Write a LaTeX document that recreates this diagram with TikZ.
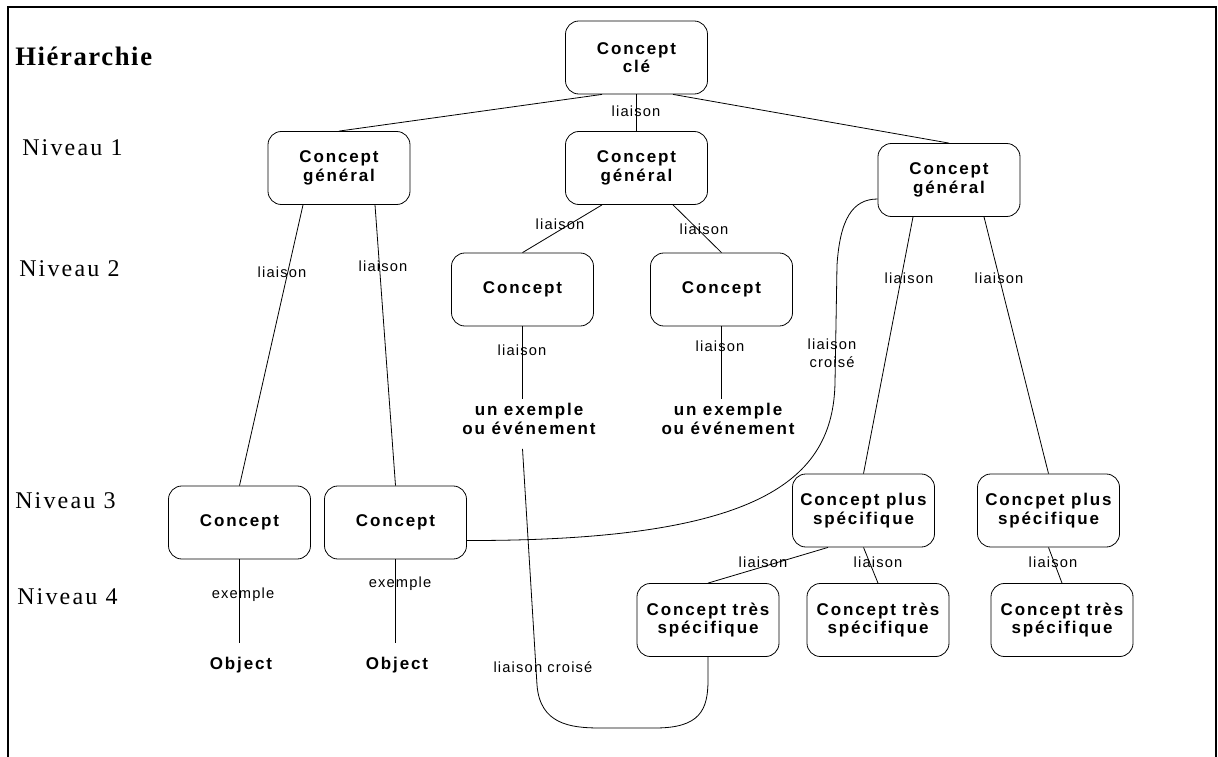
\documentclass[tikz,border=0pt]{standalone}
\usepackage{fontspec}
\setmainfont{Liberation Serif}
\newfontfamily\boxfont[LetterSpace=11]{Liberation Sans}
\newfontfamily\labfont[LetterSpace=8]{Liberation Sans}
\newfontfamily\levfont[LetterSpace=9]{Liberation Serif}
\newfontfamily\titlefont[LetterSpace=6]{Liberation Serif}
\usetikzlibrary{calc}

\begin{document}
\begin{tikzpicture}[x=0.75pt,y=-0.75pt,
  concept/.style={draw, rounded corners=10pt, minimum width=106.5pt,
    minimum height=54.75pt, align=center, inner sep=0pt, line width=0.6pt,
    font=\boxfont\bfseries\fontsize{12.75}{14}\selectfont},
  plaintext/.style={align=center, inner sep=0pt,
    font=\boxfont\bfseries\fontsize{12.75}{14}\selectfont},
  lbl/.style={align=center, inner sep=0pt,
    font=\labfont\fontsize{11}{13.5}\selectfont},
  levellabel/.style={anchor=west, inner sep=0pt,
    font=\levfont\fontsize{18}{20}\selectfont},
  link/.style={line width=0.6pt},
]
\useasboundingbox (0,0) rectangle (1218,757);

% open frame
\draw[line width=1.5pt] (8,757) -- (8,7) -- (1216,7) -- (1216,757);

% hierarchy labels
\node[levellabel, font=\titlefont\bfseries\fontsize{20}{24}\selectfont] (hier) at (15,56) {Hiérarchie};
\node[levellabel] (n1) at (22,148) {Niveau 1};
\node[levellabel] (n2) at (19,269) {Niveau 2};
\node[levellabel] (n3) at (15,501) {Niveau 3};
\node[levellabel] (n4) at (17,597) {Niveau 4};

% concepts
\node[concept] (cle) at (636.5,57.5) {Concept\\clé};
\node[concept] (gL) at (339,168) {Concept\\général};
\node[concept] (gM) at (636.5,168) {Concept\\général};
\node[concept] (gR) at (949,180) {Concept\\général};
\node[concept] (c2a) at (522.5,289.5) {Concept};
\node[concept] (c2b) at (721.5,289.5) {Concept};
\node[plaintext] (ex1) at (529,419) {un exemple\\ou événement};
\node[plaintext] (ex2) at (728,419) {un exemple\\ou événement};
\node[concept] (c3a) at (239.5,522.5) {Concept};
\node[concept] (c3b) at (395.5,522.5) {Concept};
\node[plaintext] (ob1) at (241,665) {Object};
\node[plaintext] (ob2) at (397,665) {Object};
\node[concept] (ps1) at (863.5,510.5) {Concept plus\\spécifique};
\node[concept] (ps2) at (1048.5,510.5) {Concpet plus\\spécifique};
\node[concept] (ts1) at (708,620) {Concept très\\spécifique};
\node[concept] (ts2) at (878,620) {Concept très\\spécifique};
\node[concept] (ts3) at (1062,620) {Concept très\\spécifique};

% links
\draw[link] ($(cle.south)+(-34.5,0)$) -- (gL.north);
\draw[link] (cle.south) -- (gM.north);
\draw[link] ($(cle.south)+(36.5,0)$) -- (gR.north);
\draw[link] ($(gL.south)+(-36,0)$) -- (c3a.north);
\draw[link] ($(gL.south)+(36,0)$) -- (c3b.north);
\draw[link] ($(gM.south)+(-34.5,0)$) -- (c2a.north);
\draw[link] ($(gM.south)+(36.5,0)$) -- (c2b.north);
\draw[link] (c2a.south) -- ($(c2a.south |- ex1.north)+(0,-4)$);
\draw[link] (c2b.south) -- ($(c2b.south |- ex2.north)+(0,-4)$);
\draw[link] (c3a.south) -- ($(c3a.south |- ob1.north)+(0,-14)$);
\draw[link] (c3b.south) -- ($(c3b.south |- ob2.north)+(0,-14)$);
\draw[link] ($(gR.south)+(-36,0)$) -- (ps1.north);
\draw[link] ($(gR.south)+(35,0)$) -- (ps2.north);
\draw[link] ($(ps1.south)+(-35.5,0)$) -- (ts1.north);
\draw[link] (ps1.south) -- (ts2.north);
\draw[link] (ps2.south) -- (ts3.north);

% cross links
\draw[link] ($(gR.west)+(0,19)$) .. controls (852,199) and (840,220) .. (837,265)
  -- (835,383) .. controls (833,480) and (760,541) .. ($(c3b.east)+(0,18)$);
\draw[link] ($(c2a.south |- ex1.south)+(0,14)$) -- (537,685)
  .. controls (540,724) and (570,728) .. (600,728) -- (655,728)
  .. controls (700,728) and (708,710) .. (708,680) -- (ts1.south);

% link labels
\node[lbl] (l0) at (636,111) {liaison};
\node[lbl] (l1) at (282,272) {liaison};
\node[lbl] (l2) at (383,266) {liaison};
\node[lbl] (l3) at (560,224) {liaison};
\node[lbl] (l4) at (704,229) {liaison};
\node[lbl] (l5) at (522,350) {liaison};
\node[lbl] (l6) at (720,346) {liaison};
\node[lbl] (l7) at (909,278) {liaison};
\node[lbl] (l8) at (999,278) {liaison};
\node[lbl] (l9) at (832,353) {liaison\\croisé};
\node[lbl] (l10) at (763,562) {liaison};
\node[lbl] (l11) at (878,562) {liaison};
\node[lbl] (l12) at (1053,562) {liaison};
\node[lbl] (l13) at (543,667) {liaison croisé};
\node[lbl] (e1) at (243,595) {exemple};
\node[lbl] (e2) at (400,584) {exemple};
\end{tikzpicture}
\end{document}
